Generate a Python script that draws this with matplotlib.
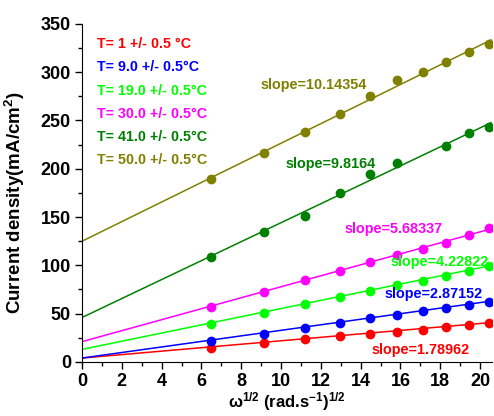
import numpy as np
import matplotlib
matplotlib.use("Agg")
import matplotlib.pyplot as plt
from matplotlib.ticker import MultipleLocator

plt.rcParams['font.family'] = ['Liberation Sans', 'DejaVu Sans']
plt.rcParams['font.weight'] = 'bold'
plt.rcParams['mathtext.fontset'] = 'custom'
plt.rcParams['mathtext.rm'] = 'Liberation Sans:bold'
plt.rcParams['mathtext.it'] = 'Liberation Sans:bold'
plt.rcParams['mathtext.bf'] = 'Liberation Sans:bold'
plt.rcParams['mathtext.default'] = 'rm'

# sqrt(omega) for 400..4000 rpm
x = np.array([6.47, 9.15, 11.21, 12.94, 14.47, 15.85, 17.12, 18.31, 19.42, 20.47])

y_t1 = [14.0, 19.5, 23.5, 26.5, 29.0, 31.5, 33.5, 36.5, 38.0, 40.0]
y_t9 = [22.0, 29.0, 35.0, 40.0, 45.5, 49.0, 52.5, 56.0, 59.0, 62.5]
y_t19 = [39.5, 51.0, 60.0, 67.5, 73.5, 79.5, 84.0, 89.0, 94.0, 99.5]
y_t30 = [56.5, 72.5, 85.0, 94.0, 103.5, 111.0, 117.0, 123.5, 131.0, 138.5]
y_t41 = [109.0, 134.5, 151.5, 175.0, 195.0, 206.5, np.nan, 224.0, 237.5, 243.5]
y_t50 = [189.5, 216.5, 238.0, 256.5, 275.0, 291.5, 300.5, 311.0, 320.5, 329.0]

series = [y_t1, y_t9, y_t19, y_t30, y_t41, y_t50]
slopes = [1.78962, 2.87152, 4.22822, 5.68337, 9.8164, 10.14354]
slope_lbl = ['1.78962', '2.87152', '4.22822', '5.68337', '9.8164', '10.14354']
intercepts = [4.0, 4.0, 13.0, 21.0, 46.0, 125.0]
colors = ['#ff0000', '#0000ff', '#00ff00', '#ff00ff', '#008000', '#808000']
legend_txt = ['T= 1 +/- 0.5 °C', 'T= 9.0 +/- 0.5°C', 'T= 19.0 +/- 0.5°C',
              'T= 30.0 +/- 0.5°C', 'T= 41.0 +/- 0.5°C', 'T= 50.0 +/- 0.5°C']
# where the slope labels sit (data coords)
slope_pos = [(14.55, 12.4), (15.2, 70.4), (15.5, 103.6), (13.2, 137.7), (10.25, 205.0), (8.95, 286.8)]

fig = plt.figure(figsize=(4.94, 4.16), dpi=100)
ax = fig.add_axes([0.166, 0.13, 0.830, 0.8125])

xf = np.array([0, 20.55])
for ys, k, b, c in zip(series, slopes, intercepts, colors):
    ax.plot(xf, b + k * xf, color=c, lw=1.1)
    ax.plot(x, ys, 'o', color=c, ms=6)

for i, (t, c) in enumerate(zip(legend_txt, colors)):
    ax.text(0.75, 329 - i * 24, t, color=c, fontsize=10.3, fontweight='bold', va='center')

for (px, py), s, c in zip(slope_pos, slope_lbl, colors):
    ax.text(px, py, "slope=" + s, color=c, fontsize=10.4, fontweight='bold', va='center')

ax.set_xlim(0, 20.6)
ax.set_ylim(0, 350)
ax.xaxis.set_major_locator(MultipleLocator(2))
ax.xaxis.set_minor_locator(MultipleLocator(1))
ax.yaxis.set_major_locator(MultipleLocator(50))
ax.yaxis.set_minor_locator(MultipleLocator(25))
ax.spines['top'].set_visible(False)
ax.spines['right'].set_visible(False)
ax.tick_params(which='major', length=5, width=1, labelsize=13, direction='out', pad=3)
ax.tick_params(which='minor', length=3, width=1, direction='out')
for lab in ax.get_xticklabels() + ax.get_yticklabels():
    lab.set_fontweight('bold')

ax.set_xlabel(r'ω$^{1/2}$ (rad.s$^{-1}$)$^{1/2}$', fontsize=12, fontweight='bold', labelpad=0)
ax.set_ylabel(r'Current density(mA/cm$^{2}$)', fontsize=13.5, fontweight='bold', labelpad=1)
ax.yaxis.set_label_coords(-0.135, 0.47)

fig.savefig('out.png', dpi=100)
